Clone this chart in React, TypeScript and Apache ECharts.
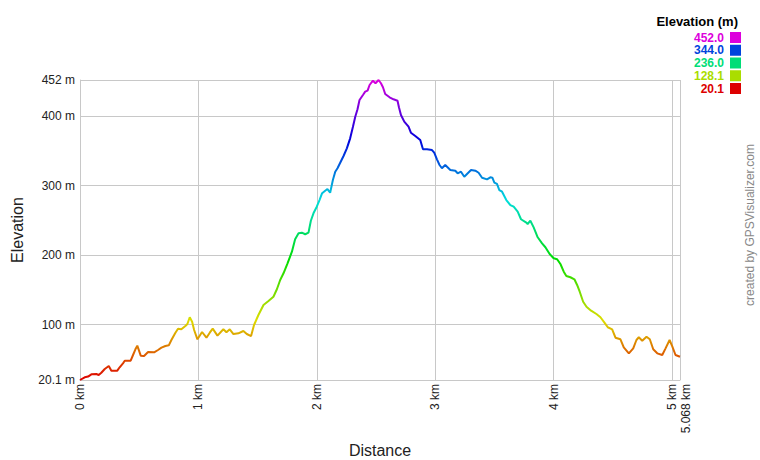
import React, { useEffect, useRef } from "react";
import * as echarts from "echarts";

const FONT = "'Liberation Sans', Arial, Helvetica, sans-serif";

const distanceKm = [
  0, 0.04, 0.068, 0.096, 0.138, 0.158, 0.18, 0.209, 0.243, 0.265, 0.315, 0.335, 0.363, 0.378, 0.428,
  0.448, 0.468, 0.484, 0.513, 0.541, 0.575, 0.626, 0.659, 0.688, 0.721, 0.75, 0.772, 0.806, 0.828,
  0.856, 0.89, 0.907, 0.927, 0.947, 0.964, 0.992, 1.031, 1.068, 1.096, 1.121, 1.161, 1.211, 1.237,
  1.265, 1.296, 1.338, 1.38, 1.409, 1.445, 1.47, 1.507, 1.55, 1.592, 1.634, 1.663, 1.691, 1.719,
  1.753, 1.79, 1.817, 1.846, 1.874, 1.902, 1.93, 1.95, 1.972, 2.0, 2.023, 2.045, 2.071, 2.09, 2.113,
  2.136, 2.156, 2.175, 2.198, 2.226, 2.254, 2.282, 2.305, 2.325, 2.344, 2.361, 2.39, 2.409, 2.429,
  2.446, 2.474, 2.496, 2.522, 2.542, 2.559, 2.578, 2.615, 2.648, 2.682, 2.694, 2.711, 2.739, 2.775,
  2.795, 2.832, 2.874, 2.897, 2.931, 2.973, 2.992, 3.015, 3.037, 3.057, 3.085, 3.128, 3.17, 3.19,
  3.218, 3.246, 3.269, 3.303, 3.339, 3.367, 3.396, 3.438, 3.466, 3.483, 3.5, 3.522, 3.542, 3.565,
  3.601, 3.635, 3.663, 3.697, 3.725, 3.77, 3.781, 3.804, 3.832, 3.866, 3.903, 3.931, 3.967, 4.001,
  4.03, 4.058, 4.086, 4.108, 4.142, 4.176, 4.199, 4.221, 4.25, 4.278, 4.317, 4.362, 4.396, 4.43,
  4.458, 4.495, 4.523, 4.565, 4.593, 4.636, 4.673, 4.7, 4.72, 4.749, 4.785, 4.813, 4.842, 4.876,
  4.918, 4.946, 4.98, 5.002, 5.03, 5.068,
];

const elevationM = [
  20.1, 24, 25, 28.3, 28.7, 27.3, 30.6, 36, 40.3, 33.5, 33.5, 38.4, 44.1, 47.9, 47.9,
  56.1, 64.3, 69.5, 55.1, 54.6, 60.4, 60, 63.3, 66.6, 69, 70, 77.7, 88.2, 94,
  93.1, 97.8, 100.7, 110.4, 104, 92.1, 78.7, 89.2, 81, 88.2, 94, 83.9, 93.1, 88.8,
  93.1, 86.3, 87.3, 90.6, 86.3, 83.4, 99.3, 113.7, 128.1, 133.8, 140, 150.7, 164.1, 173.7,
  188.1, 204.8, 222.7, 231.3, 232.2, 229.9, 232.2, 249.4, 260.1, 269.6, 279.2, 289, 292.6, 295, 289.7,
  308, 320, 324.9, 332.9, 342.6, 353.6, 368, 384.3, 399.2, 409.8, 423.2, 430.4, 435.2, 436.6,
  444.8, 451, 447.3, 452, 447.3, 441.5, 431.8, 427.1, 424.2, 422.2, 412.7, 401.6, 392, 384.8,
  376.1, 371.4, 365.6, 352.2, 352.2, 351.2, 347.3, 337.8, 329.6, 324.9, 329.6, 322.4, 321.4, 317.7,
  320, 312.8, 316.7, 322.4, 321.4, 318.5, 311.3, 309, 311.9, 311.3, 304.2, 302.3, 293.6, 291.2,
  279.2, 272, 269.6, 262.4, 251.5, 246.6, 244.7, 249.4, 239.9, 225.6, 216.9, 211.2, 201.5, 195.3,
  194, 187.1, 176, 169.8, 168, 165.1, 156.9, 147.2, 132.8, 125.6, 119.9, 115.1, 110.4, 102.6,
  96, 93.1, 81, 78.7, 67.2, 58.5, 65.7, 77.7, 81.6, 76.7, 82.4, 78.7, 64.3, 58.5,
  56.1, 65.7, 77.7, 69, 56.1, 53.6,
];

const xGridValues = [0, 1, 2, 3, 4, 5, 5.068];
const xLabelValues = [0, 1, 2, 3, 4, 5];
const xEndLabelValues = [5.068];
const yTickValues = [20.1, 100, 200, 300, 400, 452];
const legendValues = ["452.0", "344.0", "236.0", "128.1", "20.1"];
const legendColors = ["#dd00dd", "#0044dd", "#00dd77", "#aadd00", "#dd0000"];
const gradientColors = [
  "#dd0000", "#dd6e00", "#dddd00", "#6edd00", "#00dd00", "#00dd6e",
  "#00dddd", "#006edd", "#0000dd", "#6e00dd", "#dd00dd",
];

const GRID_COLOR = "#c8c8c8";
const TEXT_COLOR = "#222";
const X_MIN = 0;
const X_MAX = 5.068;

export default function App() {
  const ref = useRef<HTMLDivElement>(null);

  useEffect(() => {
    document.body.style.margin = "0";
    const chart = echarts.init(ref.current as HTMLDivElement, null, { renderer: "svg" });
    const data = distanceKm.map((d, i) => [d, elevationM[i]]);

    const legendGraphics: any[] = [
      {
        type: "text",
        x: 738,
        y: 21,
        style: {
          text: "Elevation (m)",
          fontFamily: FONT,
          fontSize: 13,
          fontWeight: "bold",
          fill: "#000",
          textAlign: "right",
          textVerticalAlign: "middle",
        },
      },
    ];
    legendValues.forEach((label, i) => {
      const cy = 37.5 + i * 12.75;
      legendGraphics.push({
        type: "text",
        x: 724,
        y: cy,
        style: {
          text: label,
          fontFamily: FONT,
          fontSize: 12,
          fontWeight: "bold",
          fill: legendColors[i],
          textAlign: "right",
          textVerticalAlign: "middle",
        },
      });
      legendGraphics.push({
        type: "rect",
        shape: { x: 730, y: cy - 5.5, width: 11, height: 11 },
        style: { fill: legendColors[i] },
      });
    });
    legendGraphics.push({
      type: "text",
      x: 750,
      y: 225,
      rotation: Math.PI / 2,
      style: {
        text: "created by GPSVisualizer.com",
        fontFamily: FONT,
        fontSize: 12,
        fill: "#888",
        textAlign: "center",
        textVerticalAlign: "middle",
      },
    });

    const xLabelBase = {
      rotate: 90,
      margin: 4,
      fontSize: 12,
      color: TEXT_COLOR,
      fontFamily: FONT,
      formatter: (v: number) => `${v} km`,
    };

    chart.setOption({
      animation: false,
      textStyle: { fontFamily: FONT },
      grid: { left: 80, right: 80, top: 80, bottom: 80, containLabel: false, outerBoundsMode: "none" },
      xAxis: [
        {
          type: "value",
          min: X_MIN,
          max: X_MAX,
          name: "Distance",
          nameLocation: "middle",
          nameGap: 62,
          nameTextStyle: { fontSize: 16, color: TEXT_COLOR, fontFamily: FONT },
          axisLine: { show: true, lineStyle: { color: GRID_COLOR, width: 1 } },
          axisTick: { show: false, customValues: xGridValues },
          axisLabel: { ...xLabelBase, customValues: xLabelValues },
          splitLine: { show: true, lineStyle: { color: GRID_COLOR, width: 1 } },
        },
        {
          type: "value",
          position: "bottom",
          min: X_MIN,
          max: X_MAX,
          axisLine: { show: false },
          axisTick: { show: false, customValues: xEndLabelValues },
          axisLabel: { ...xLabelBase, verticalAlign: "top", lineHeight: 12, customValues: xEndLabelValues },
          splitLine: { show: false },
        },
      ],
      yAxis: {
        type: "value",
        min: 20.1,
        max: 452,
        name: "Elevation",
        nameLocation: "middle",
        nameGap: 55,
        nameTextStyle: { fontSize: 16, color: TEXT_COLOR, fontFamily: FONT },
        axisLine: { show: true, lineStyle: { color: GRID_COLOR, width: 1 } },
        axisTick: { show: false, customValues: yTickValues },
        axisLabel: {
          customValues: yTickValues,
          margin: 5,
          fontSize: 12,
          color: TEXT_COLOR,
          fontFamily: FONT,
          showMinLabel: true,
          showMaxLabel: true,
          formatter: (v: number) => `${v} m`,
        },
        splitLine: { show: true, lineStyle: { color: GRID_COLOR, width: 1 } },
      },
      visualMap: {
        type: "continuous",
        show: false,
        seriesIndex: 0,
        dimension: 1,
        min: 20.1,
        max: 452,
        inRange: { color: gradientColors },
      },
      series: [
        {
          type: "line",
          xAxisIndex: 0,
          data,
          showSymbol: false,
          symbol: "none",
          lineStyle: { width: 2 },
          z: 5,
        },
      ],
      graphic: legendGraphics,
    });

    return () => {
      chart.dispose();
    };
  }, []);

  return <div ref={ref} style={{ width: 760, height: 460 }} />;
}
